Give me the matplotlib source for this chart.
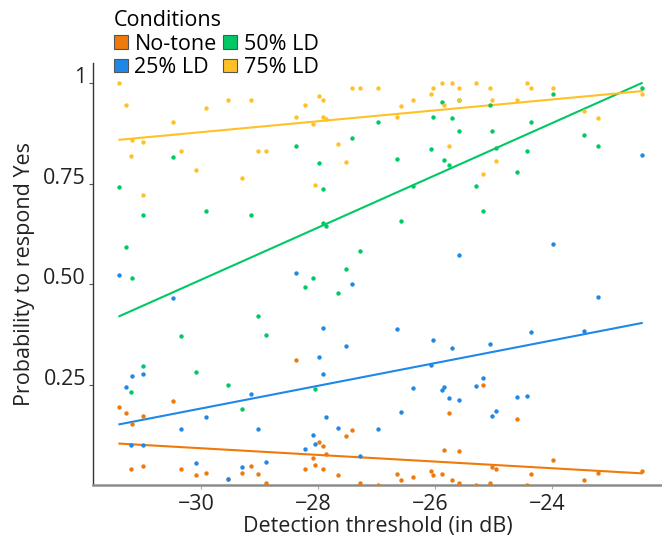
import matplotlib
matplotlib.use("Agg")
import matplotlib.pyplot as plt
import matplotlib.transforms as mtransforms
from matplotlib.patches import Patch
import numpy as np

plt.rcParams['font.family'] = ['Open Sans', 'DejaVu Sans']

# Detection threshold per participant (dB)
threshold = [-31.389, -31.282, -31.174, -31.184, -30.980, -30.980, -30.474, -30.331,
             -30.082, -29.916, -29.541, -29.297, -29.148, -29.017, -28.881, -28.381,
             -28.227, -28.078, -28.056, -27.976, -27.915, -27.915, -27.857, -27.659,
             -27.515, -27.420, -27.276, -26.976, -26.657, -26.577, -26.384, -26.077,
             -26.031, -25.884, -25.850, -25.758, -25.713, -25.587, -25.587, -25.304,
             -25.189, -25.058, -25.024, -24.956, -24.604, -24.427, -24.370, -23.995,
             -23.461, -23.222, -22.476]

p_notone = [0.193, 0.180, 0.152, 0.039, 0.172, 0.048, 0.208, 0.039,
            0.026, 0.031, 0.014, 0.029, 0.048, 0.027, 0.005, 0.310,
            0.039, 0.067, 0.049, 0.106, 0.097, 0.040, 0.077, 0.026,
            0.121, 0.137, 0.005, 0.000, 0.027, 0.012, 0.021, 0.034,
            0.026, 0.027, 0.086, 0.180, 0.012, 0.084, 0.005, 0.000,
            0.248, 0.005, 0.044, 0.041, 0.164, 0.000, 0.027, 0.061,
            0.013, 0.029, 0.034]

p_25 = [0.522, 0.245, 0.270, 0.100, 0.276, 0.100, 0.465, 0.140,
        0.054, 0.168, 0.014, 0.044, 0.227, 0.140, 0.057, 0.528,
        0.089, 0.125, 0.101, 0.318, 0.391, 0.275, 0.169, 0.141,
        0.346, 0.499, 0.072, 0.139, 0.388, 0.182, 0.241, 0.298,
        0.360, 0.237, 0.245, 0.216, 0.341, 0.211, 0.573, 0.246,
        0.266, 0.351, 0.171, 0.184, 0.218, 0.221, 0.380, 0.600,
        0.384, 0.468, 0.820]

p_50 = [0.742, 0.591, 0.514, 0.231, 0.672, 0.295, 0.817, 0.370,
        0.281, 0.681, 0.249, 0.189, 0.672, 0.420, 0.372, 0.843,
        0.492, 0.514, 0.238, 0.800, 0.736, 0.652, 0.645, 0.478,
        0.537, 0.864, 0.581, 0.902, 0.812, 0.657, 0.743, 0.836,
        0.915, 0.954, 0.809, 0.795, 0.914, 0.880, 0.959, 0.743,
        0.682, 0.945, 0.882, 0.838, 0.780, 0.831, 0.904, 0.972,
        0.872, 0.843, 0.987]

p_75 = [1.000, 0.945, 0.859, 0.818, 0.853, 0.721, 0.902, 0.832,
        0.783, 0.938, 0.959, 0.765, 0.959, 0.832, 0.832, 0.916,
        0.946, 0.898, 0.746, 0.969, 0.959, 0.915, 0.910, 0.848,
        0.804, 0.987, 0.987, 0.987, 0.915, 0.943, 0.957, 0.972,
        0.987, 1.000, 0.945, 0.843, 1.000, 0.987, 0.959, 1.000,
        0.774, 0.987, 0.957, 0.806, 0.957, 1.000, 0.987, 0.987,
        0.930, 0.912, 0.973]

# Fitted trend lines (endpoints)
fit_x = [-31.389, -22.476]
fit_notone = [0.103, 0.029]
fit_25 = [0.151, 0.403]
fit_50 = [0.420, 1.000]
fit_75 = [0.859, 0.980]

conditions = ["No-tone", "25% LD", "50% LD", "75% LD"]
colors = ["#EE7A0C", "#1E88E8", "#00C865", "#FFC125"]
series = [p_notone, p_25, p_50, p_75]
fits = [fit_notone, fit_25, fit_50, fit_75]

FS = 15.5

fig = plt.figure(figsize=(6.62, 5.36), dpi=100)
ax = fig.add_axes([93/662, 51/536, 1 - 93/662, 422/536])

for vals, fy, c in zip(series, fits, colors):
    ax.scatter(threshold, vals, s=10, color=c, linewidths=0, zorder=3)
    ax.plot(fit_x, fy, color=c, lw=1.5, zorder=2)

ax.set_xlim(-31.84, -22.13)
ax.set_ylim(0, 1.05)

ax.set_xticks([-30, -28, -26, -24])
ax.set_xticklabels(["\u221230", "\u221228", "\u221226", "\u221224"])
ax.set_yticks([0.25, 0.5, 0.75, 1.0])
ax.set_yticklabels(["0.25", "0.50", "0.75", "1"])
for lab in ax.get_yticklabels():
    lab.set_verticalalignment('baseline')

ax.tick_params(axis='both', labelsize=FS, length=3, width=0.8, pad=2)
ax.tick_params(axis='x', colors='#aaaaaa', labelcolor='#222222')
ax.tick_params(axis='y', colors='#555555', labelcolor='#222222')

shift = mtransforms.ScaledTranslation(-5/100, -2/100, fig.dpi_scale_trans)
for lab in ax.get_xticklabels():
    lab.set_transform(lab.get_transform() + shift)

for s in ['top', 'right']:
    ax.spines[s].set_visible(False)
ax.spines['left'].set_color('#333333')
ax.spines['left'].set_linewidth(1.0)
ax.spines['bottom'].set_color('#8c8c8c')
ax.spines['bottom'].set_linewidth(1.8)

ax.set_xlabel("Detection threshold (in dB)", fontsize=FS, color='#222222', labelpad=1)
ax.set_ylabel("Probability to respond Yes", fontsize=FS, color='#222222', labelpad=6)

handles = [Patch(facecolor=c, edgecolor='#555555', linewidth=0.8) for c in colors]
leg = fig.legend(handles, conditions, title="Conditions", ncol=2,
                 loc='upper left', bbox_to_anchor=(114/662, 1 - 10/536),
                 frameon=False, fontsize=FS, title_fontsize=FS,
                 handlelength=0.65, handleheight=0.6, handletextpad=0.3,
                 columnspacing=0.3, labelspacing=0.1, borderaxespad=0, borderpad=0)
leg._legend_box.align = "left"
leg._legend_box.sep = 2

fig.savefig("out.png", dpi=100)
